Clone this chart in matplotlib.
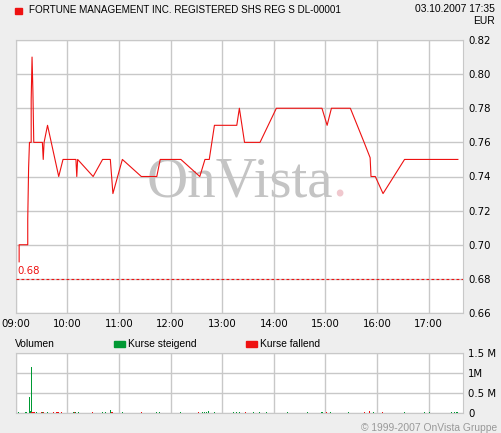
import matplotlib
matplotlib.use("Agg")
import matplotlib.pyplot as plt
from matplotlib.patches import Rectangle

# intraday price ticks (time, EUR)
times = ["09:04", "09:04", "09:06", "09:14", "09:14", "09:15", "09:16", "09:18", "09:18",
         "09:19", "09:20", "09:21", "09:31", "09:32", "09:33", "09:37", "09:50", "09:55",
         "10:10", "10:11", "10:12", "10:30", "10:41", "10:50", "10:53", "11:04", "11:26",
         "11:44", "11:48", "12:12", "12:34", "12:40", "12:45", "12:51", "13:17", "13:20",
         "13:26", "13:44", "14:03", "14:56", "15:02", "15:07", "15:29", "15:45", "15:52",
         "15:53", "15:58", "16:07", "16:32", "17:34"]
prices = [0.690, 0.700, 0.700, 0.700, 0.715, 0.745, 0.760, 0.760, 0.785,
          0.810, 0.790, 0.760, 0.760, 0.750, 0.760, 0.770, 0.740, 0.750,
          0.750, 0.740, 0.750, 0.740, 0.750, 0.750, 0.730, 0.750, 0.740,
          0.740, 0.750, 0.750, 0.740, 0.750, 0.750, 0.770, 0.770, 0.780,
          0.760, 0.760, 0.780, 0.780, 0.770, 0.780, 0.780, 0.760, 0.751,
          0.740, 0.740, 0.730, 0.750, 0.750]
prev_close = 0.68

# volume bars (time, shares, rising?)
vol_times = ["09:03", "09:12", "09:16", "09:17", "09:18", "09:19", "09:20", "09:21", "09:22",
             "09:24", "09:30", "09:31", "09:32", "09:37", "09:44", "09:48", "09:50", "09:53",
             "10:07", "10:08", "10:10", "10:13", "10:29", "10:41", "10:44", "10:50", "10:51",
             "10:53", "11:04", "11:26", "11:44", "11:47", "12:12", "12:33", "12:37", "12:39",
             "12:42", "12:44", "12:51", "13:13", "13:17", "13:20", "13:27", "13:36", "13:43",
             "13:52", "14:16", "14:39", "14:56", "15:01", "15:06", "15:27", "15:45", "15:51",
             "15:56", "16:06", "16:32", "16:55", "17:01", "17:27", "17:30", "17:33"]
vol_values = [25000, 20000, 410000, 60000, 1160000, 30000, 30000, 30000, 25000,
              20000, 30000, 25000, 30000, 25000, 20000, 20000, 20000, 20000,
              25000, 25000, 20000, 20000, 20000, 20000, 20000, 70000, 30000,
              30000, 20000, 20000, 20000, 20000, 20000, 25000, 20000, 20000,
              25000, 40000, 25000, 20000, 20000, 20000, 20000, 20000, 20000,
              20000, 20000, 20000, 25000, 20000, 20000, 20000, 20000, 40000,
              20000, 20000, 20000, 20000, 20000, 20000, 20000, 20000]
vol_up = [1, 1, 1, 1, 1, 0, 0, 0, 0,
          1, 0, 1, 0, 1, 0, 0, 0, 0,
          1, 0, 1, 1, 0, 1, 1, 1, 0,
          0, 1, 0, 1, 1, 1, 0, 1, 1,
          1, 1, 1, 1, 1, 1, 0, 1, 1,
          1, 1, 1, 1, 0, 1, 1, 0, 0,
          1, 0, 1, 1, 1, 1, 1, 1]

hour_ticks = list(range(9, 18))
price_ticks = [0.66, 0.68, 0.70, 0.72, 0.74, 0.76, 0.78, 0.80, 0.82]
vol_ticks = [0, 500000, 1000000, 1500000]
vol_labels = ["0", "0.5 M", "1M", "1.5 M"]


def to_hours(ts):
    return [int(t[:2]) + int(t[3:]) / 60 for t in ts]


BG = "#EEEEEE"
GRID = "#C8C8C8"
RED = "#EE1111"
GREEN = "#009933"
W, H = 501, 433

fig = plt.figure(figsize=(W / 100, H / 100), dpi=100, facecolor=BG)
plt.rcParams["font.family"] = ["DejaVu Sans"]


def box(x0, y0, x1, y1):
    return [x0 / W, 1 - y1 / H, (x1 - x0) / W, (y1 - y0) / H]


def style(ax):
    ax.set_facecolor("white")
    for s in ax.spines.values():
        s.set_color(GRID)
    ax.grid(True, color=GRID, lw=1)
    ax.set_axisbelow(True)
    ax.yaxis.tick_right()
    ax.tick_params(length=0, labelsize=7.3, colors="black", pad=4)


xmin, xmax = 9.0, 17.66

ax = fig.add_axes(box(15.7, 40, 462.7, 313))
style(ax)
ax.plot(to_hours(times), prices, color=RED, lw=0.8, zorder=3)
ax.axhline(prev_close, color=RED, lw=0.8, ls=(0, (2.5, 2)), zorder=3)
ax.text(xmin + 0.03, prev_close + 0.0015, f"{prev_close:.2f}", color=RED, fontsize=7.3,
        va="bottom", ha="left")
# watermark
ax.text(15.14, 0.7285, "OnVista", family="Liberation Serif", fontsize=41, color="#C4C4C4",
        ha="right", va="baseline", zorder=1)
ax.text(15.14, 0.7285, ".", family="Liberation Serif", fontsize=41, color="#F0C8CE",
        ha="left", va="baseline", zorder=1)
ax.set_xlim(xmin, xmax)
ax.set_ylim(0.66, 0.82)
ax.set_yticks(price_ticks)
ax.set_yticklabels([f"{p:.2f}" for p in price_ticks])
ax.set_xticks(hour_ticks)
ax.set_xticklabels([f"{h:02d}:00" for h in hour_ticks])

vx = fig.add_axes(box(15.7, 353.3, 462.7, 413))
style(vx)
vh = to_hours(vol_times)
for t, v, up in zip(vh, vol_values, vol_up):
    vx.bar(t, v, width=1.3 / 60, color=GREEN if up else RED, align="center", zorder=3,
           linewidth=0)
vx.set_xlim(xmin, xmax)
vx.set_ylim(0, 1500000)
vx.set_yticks(vol_ticks)
vx.set_yticklabels(vol_labels)
vx.set_xticks(hour_ticks)
vx.set_xticklabels([])

# header
fig.patches.append(Rectangle((15 / W, 1 - 14 / H), 7 / W, 6 / H, color=RED,
                             transform=fig.transFigure))
fig.text(29 / W, 1 - 10 / H, "FORTUNE MANAGEMENT INC. REGISTERED SHS REG S DL-00001",
         family="Liberation Sans", fontsize=7.15, va="center", ha="left")
fig.text(495 / W, 1 - 9 / H, "03.10.2007 17:35", family="Liberation Sans", fontsize=7.4,
         va="center", ha="right")
fig.text(495 / W, 1 - 21 / H, "EUR", family="Liberation Sans", fontsize=7.4,
         va="center", ha="right")

# volume legend
fig.text(15 / W, 1 - 344 / H, "Volumen", family="Liberation Sans", fontsize=7.4,
         va="center", ha="left")
fig.patches.append(Rectangle((114 / W, 1 - 347 / H), 11 / W, 6 / H, color=GREEN,
                             transform=fig.transFigure))
fig.text(128 / W, 1 - 344 / H, "Kurse steigend", family="Liberation Sans", fontsize=7.4,
         va="center", ha="left")
fig.patches.append(Rectangle((246 / W, 1 - 347 / H), 11 / W, 6 / H, color=RED,
                             transform=fig.transFigure))
fig.text(260 / W, 1 - 344 / H, "Kurse fallend", family="Liberation Sans", fontsize=7.4,
         va="center", ha="left")

fig.text(497 / W, 1 - 428 / H, "\u00a9 1999-2007 OnVista Gruppe", family="Liberation Sans",
         fontsize=7.4, color="#999999", va="center", ha="right")

fig.savefig("out.png", dpi=100, facecolor=BG)
